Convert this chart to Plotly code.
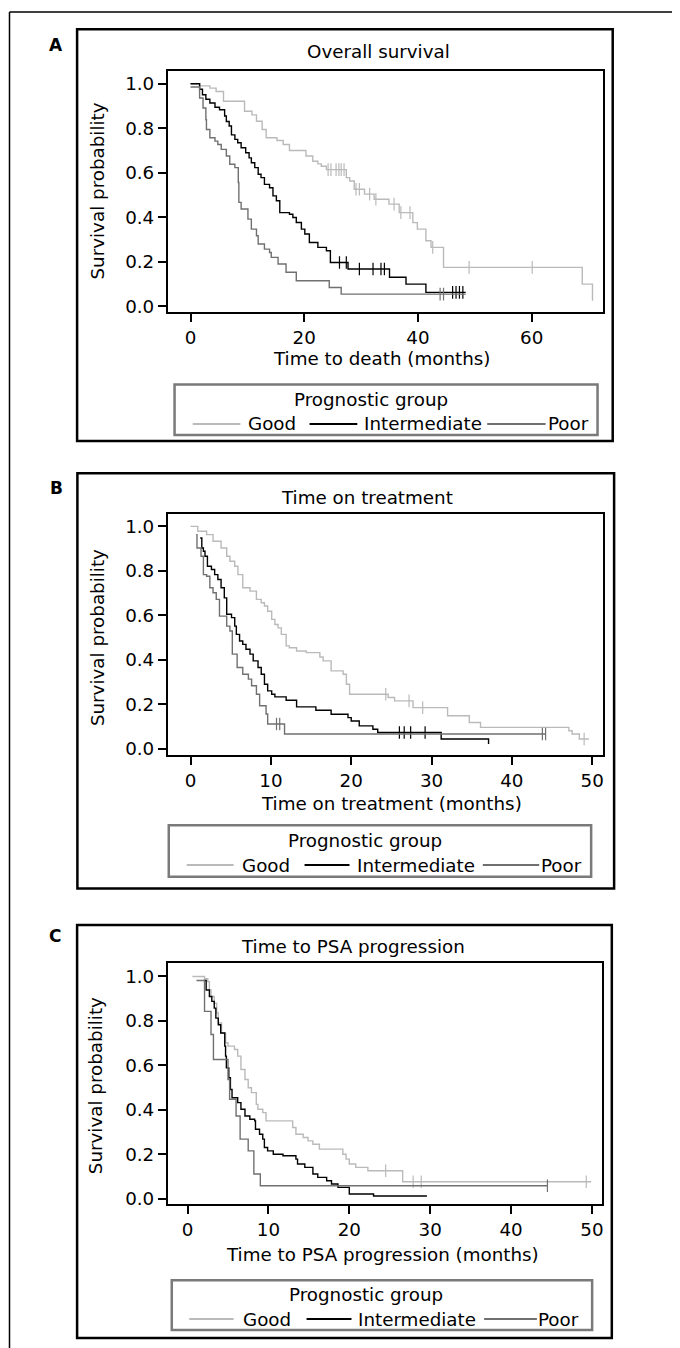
import plotly.graph_objects as go

W, H = 680, 1348
OFF = 8  # page body margin of the html page

# ---------------- data: Panel A, Overall survival (months) ----------------
os_good_start = 0.0
os_good_s0 = 1.0
os_good_t = [1.6, 3.4, 4.5, 5.8, 9.5, 10.8, 11.6, 12.6, 13.3, 15.2, 16.3, 17.4, 20.3, 21.5, 22.4, 23.0,
             23.9, 27.4, 28.0, 28.8, 30.6, 32.3, 34.9, 36.7, 39.1, 39.9, 41.4, 42.3, 44.5, 68.9, 70.7]
os_good_s = [0.99, 0.98, 0.965, 0.921, 0.876, 0.86, 0.831, 0.794, 0.757, 0.745, 0.727, 0.70, 0.675, 0.652,
             0.64, 0.629, 0.614, 0.578, 0.563, 0.526, 0.504, 0.481, 0.459, 0.421, 0.376, 0.347, 0.295,
             0.265, 0.175, 0.10, 0.025]
os_good_cens = [24.2, 24.7, 25.6, 26.1, 26.5, 27.0, 29.1, 29.7, 31.5, 32.6, 35.8, 37.0, 38.6, 42.6, 49.0, 60.1]
os_good_end = 70.7

os_int_start = 0.0
os_int_s0 = 1.0
os_int_t = [1.6, 2.1, 2.7, 3.4, 4.3, 5.1, 6.0, 6.3, 6.8, 7.2, 7.8, 8.3, 8.9, 9.7, 10.3, 10.7, 11.3, 11.9,
            12.4, 13.0, 13.9, 14.5, 15.1, 15.7, 17.4, 18.0, 18.6, 19.5, 20.1, 20.9, 22.4, 23.9, 24.6,
            27.7, 35.0, 37.9, 41.4]
os_int_s = [0.975, 0.95, 0.93, 0.913, 0.894, 0.883, 0.855, 0.83, 0.81, 0.77, 0.75, 0.735, 0.712, 0.69,
            0.667, 0.645, 0.623, 0.593, 0.578, 0.548, 0.533, 0.496, 0.474, 0.421, 0.414, 0.399, 0.377,
            0.347, 0.325, 0.287, 0.265, 0.25, 0.197, 0.168, 0.131, 0.10, 0.063]
os_int_cens = [26.2, 27.4, 29.7, 32.1, 33.5, 34.1, 46.1, 46.7, 47.3, 47.9]
os_int_end = 48.4

os_poor_start = 0.0
os_poor_s0 = 0.985
os_poor_t = [1.6, 2.2, 2.7, 2.8, 3.4, 4.3, 4.8, 5.4, 6.3, 6.9, 7.8, 8.4, 8.5, 8.9, 10.1, 10.7, 11.6, 11.9,
             13.0, 13.9, 14.2, 15.4, 16.8, 18.6, 24.4, 26.5]
os_poor_s = [0.936, 0.891, 0.838, 0.794, 0.757, 0.742, 0.727, 0.705, 0.675, 0.638, 0.623, 0.556, 0.467,
             0.437, 0.392, 0.347, 0.317, 0.28, 0.257, 0.242, 0.22, 0.19, 0.153, 0.115, 0.085, 0.055]
os_poor_cens = [43.9, 44.5]
os_poor_end = 48.4

# ---------------- data: Panel B, Time on treatment (months) ----------------
tt_good_start = 0.0
tt_good_s0 = 1.0
tt_good_t = [0.9, 2.0, 2.8, 3.8, 4.5, 4.9, 5.5, 5.9, 6.5, 7.4, 8.2, 8.8, 9.2, 9.6, 10.1, 10.5, 10.9, 11.3,
             11.9, 12.3, 13.2, 14.4, 16.1, 16.5, 17.5, 19.0, 19.4, 19.8, 24.6, 25.4, 27.7, 32.0, 34.7,
             36.1, 47.1, 47.5, 48.4]
tt_good_s = [0.978, 0.963, 0.933, 0.903, 0.866, 0.843, 0.821, 0.783, 0.724, 0.709, 0.672, 0.657, 0.642,
             0.619, 0.582, 0.559, 0.544, 0.515, 0.463, 0.455, 0.44, 0.433, 0.413, 0.396, 0.351, 0.336,
             0.291, 0.246, 0.231, 0.216, 0.186, 0.149, 0.119, 0.097, 0.082, 0.067, 0.045]
tt_good_cens = [24.3, 27.2, 28.9, 49.0]
tt_good_end = 49.6

tt_int_start = 1.2
tt_int_s0 = 0.948
tt_int_t = [1.4, 1.6, 1.8, 2.1, 2.6, 3.0, 3.4, 3.8, 4.2, 4.5, 5.1, 5.5, 5.7, 6.1, 6.5, 6.9, 7.4, 7.8, 8.4,
            8.8, 9.2, 9.6, 10.1, 10.5, 11.9, 13.2, 15.6, 17.5, 19.6, 20.0, 21.0, 22.7, 23.3, 31.2, 37.1]
tt_int_s = [0.903, 0.888, 0.866, 0.821, 0.806, 0.783, 0.761, 0.724, 0.679, 0.605, 0.59, 0.552, 0.515,
            0.485, 0.47, 0.448, 0.426, 0.396, 0.366, 0.336, 0.291, 0.261, 0.246, 0.234, 0.219, 0.189,
            0.174, 0.156, 0.141, 0.126, 0.104, 0.089, 0.074, 0.045, 0.022]
tt_int_cens = [26.0, 26.6, 27.4, 29.2]
tt_int_end = 37.1

tt_poor_start = 0.7
tt_poor_s0 = 0.963
tt_poor_t = [0.8, 1.3, 1.6, 2.0, 2.4, 2.8, 3.2, 3.6, 4.5, 4.9, 5.2, 5.8, 6.5, 7.2, 7.6, 8.2, 8.6, 9.4,
             9.6, 11.7]
tt_poor_s = [0.903, 0.866, 0.783, 0.776, 0.724, 0.702, 0.672, 0.597, 0.552, 0.53, 0.426, 0.366, 0.336,
             0.314, 0.284, 0.246, 0.194, 0.157, 0.112, 0.067]
tt_poor_cens = [10.7, 11.1, 43.8, 44.2]
tt_poor_end = 44.2

# ---------------- data: Panel C, Time to PSA progression (months) ----------------
psa_good_start = 0.6
psa_good_s0 = 1.0
psa_good_t = [2.1, 2.5, 2.7, 2.9, 3.3, 3.6, 3.8, 4.2, 4.7, 5.0, 5.8, 6.2, 6.6, 7.1, 7.5, 7.9, 8.5, 8.7,
              9.3, 9.7, 13.0, 13.4, 14.3, 14.9, 15.5, 16.3, 19.2, 19.6, 20.0, 20.8, 22.3, 26.6]
psa_good_s = [0.99, 0.977, 0.939, 0.91, 0.88, 0.836, 0.791, 0.746, 0.702, 0.687, 0.672, 0.642, 0.582,
              0.537, 0.50, 0.478, 0.425, 0.403, 0.388, 0.351, 0.321, 0.291, 0.276, 0.261, 0.246, 0.224,
              0.201, 0.179, 0.157, 0.142, 0.127, 0.077]
psa_good_cens = [24.5, 27.9, 28.9, 49.3]
psa_good_end = 49.9

psa_int_start = 2.0
psa_int_s0 = 0.982
psa_int_t = [2.3, 2.7, 3.0, 3.3, 3.5, 3.8, 4.1, 4.6, 4.7, 4.8, 5.1, 5.3, 5.5, 6.2, 6.6, 7.1, 7.7, 8.3,
             8.4, 8.9, 9.3, 9.5, 9.9, 10.6, 11.8, 13.4, 13.6, 14.5, 15.5, 16.1, 17.2, 17.8, 18.6, 20.0, 23.0]
psa_int_s = [0.939, 0.91, 0.888, 0.858, 0.813, 0.783, 0.746, 0.687, 0.642, 0.589, 0.545, 0.492, 0.455,
             0.433, 0.403, 0.373, 0.358, 0.351, 0.313, 0.291, 0.269, 0.231, 0.216, 0.201, 0.194, 0.179,
             0.157, 0.142, 0.112, 0.097, 0.082, 0.067, 0.052, 0.022, 0.013]
psa_int_cens = []
psa_int_end = 29.6

psa_poor_start = 1.1
psa_poor_s0 = 0.982
psa_poor_t = [2.1, 2.9, 3.2, 5.0, 5.2, 6.0, 6.5, 7.5, 8.2, 9.0]
psa_poor_s = [0.843, 0.739, 0.627, 0.537, 0.448, 0.373, 0.269, 0.216, 0.112, 0.059]
psa_poor_cens = [44.5]
psa_poor_end = 44.5

group_names = ["Good", "Intermediate", "Poor"]
panel_letters = ["A", "B", "C"]
panel_titles = ["Overall survival", "Time on treatment", "Time to PSA progression"]
x_titles = ["Time to death (months)", "Time on treatment (months)", "Time to PSA progression (months)"]
y_title = "Survival probability"
legend_title = "Prognostic group"
y_ticks = [0.0, 0.2, 0.4, 0.6, 0.8, 1.0]
x_ticks = [[0, 20, 40, 60], [0, 10, 20, 30, 40, 50], [0, 10, 20, 30, 40, 50]]

curves = [
    [(os_good_start, os_good_s0, os_good_t, os_good_s, os_good_cens, os_good_end),
     (os_int_start, os_int_s0, os_int_t, os_int_s, os_int_cens, os_int_end),
     (os_poor_start, os_poor_s0, os_poor_t, os_poor_s, os_poor_cens, os_poor_end)],
    [(tt_good_start, tt_good_s0, tt_good_t, tt_good_s, tt_good_cens, tt_good_end),
     (tt_int_start, tt_int_s0, tt_int_t, tt_int_s, tt_int_cens, tt_int_end),
     (tt_poor_start, tt_poor_s0, tt_poor_t, tt_poor_s, tt_poor_cens, tt_poor_end)],
    [(psa_good_start, psa_good_s0, psa_good_t, psa_good_s, psa_good_cens, psa_good_end),
     (psa_int_start, psa_int_s0, psa_int_t, psa_int_s, psa_int_cens, psa_int_end),
     (psa_poor_start, psa_poor_s0, psa_poor_t, psa_poor_s, psa_poor_cens, psa_poor_end)],
]

# ---------------- styling / layout (screen pixels) ----------------
COLORS = ["#bababa", "#000000", "#707070"]
FONT = "DejaVu Sans"
FS = 18.3

panels = [
    dict(plot=(168.3, 603.6, 71.0, 313.3), xr=[-3.95, 72.5], yr=[-0.026, 1.058],
         frame=(77.2, 29.3, 613.6, 442.7), letter=(56.4, 45.0), title=(379.4, 51.7),
         ytitle=(97.6, 191.7), xtitle=(381.6, 360.0),
         leg=(174.8, 386.0, 598.4, 436.7), legtitle=(372.0, 401.0), row=425.5,
         items=[(193.0, 240.7, 247.0), (310.0, 357.8, 363.4), (487.9, 546.4, 547.3)]),
    dict(plot=(168.3, 604.3, 516.0, 758.0), xr=[-2.8, 51.4], yr=[-0.028, 1.055],
         frame=(77.5, 475.0, 615.0, 891.7), letter=(56.4, 490.0), title=(367.7, 499.3),
         ytitle=(97.6, 640.0), xtitle=(391.6, 806.7),
         leg=(169.0, 828.3, 592.0, 880.0), legtitle=(365.6, 843.3), row=868.3,
         items=[(187.0, 234.0, 241.5), (305.0, 350.0, 356.5), (483.5, 540.0, 540.5)]),
    dict(plot=(168.3, 603.3, 966.7, 1208.3), xr=[-2.41, 51.3], yr=[-0.022, 1.06],
         frame=(77.2, 928.3, 612.7, 1343.0), letter=(55.5, 939.3), title=(353.4, 950.0),
         ytitle=(96.3, 1090.0), xtitle=(383.3, 1259.3),
         leg=(172.0, 1285.0, 593.0, 1335.0), legtitle=(366.4, 1299.3), row=1324.0,
         items=[(189.5, 234.0, 242.8), (307.0, 352.0, 358.0), (484.8, 537.7, 538.2)]),
]


def fx(px):
    return (px - OFF) / W


def fy(py):
    return 1 - (py - OFF) / H


def surv_at(c, start_s, ts, ss):
    val = start_s
    for t, s in zip(ts, ss):
        if t <= c:
            val = s
    return val


fig = go.Figure()
layout = dict(width=W, height=H, margin=dict(l=0, r=0, t=0, b=0),
              paper_bgcolor="white", plot_bgcolor="white", showlegend=False)
shapes = []
annotations = []

for i, (p, pcurves) in enumerate(zip(panels, curves)):
    sfx = "" if i == 0 else str(i + 1)
    xa, ya = "x" + sfx, "y" + sfx
    for g, (st, s0, ts, ss, cens, end) in enumerate(pcurves):
        xs = [st] + list(ts) + [end]
        ys = [s0] + list(ss) + [ss[-1] if ss else s0]
        fig.add_trace(go.Scatter(x=xs, y=ys, mode="lines", line=dict(color=COLORS[g], width=1.4, shape="hv"),
                                 name=group_names[g], xaxis=xa, yaxis=ya, hoverinfo="skip"))
        if cens:
            fig.add_trace(go.Scatter(x=cens, y=[surv_at(c, s0, ts, ss) for c in cens], mode="markers",
                                     marker=dict(symbol="line-ns", size=9,
                                                 line=dict(color=COLORS[g], width=1.2)),
                                     name=group_names[g] + " censored", xaxis=xa, yaxis=ya,
                                     hoverinfo="skip"))
    x0, x1, yt, yb = p["plot"]
    axis_common = dict(showgrid=False, zeroline=False, showline=True, linecolor="black", linewidth=2.3,
                       mirror=True, ticks="outside", ticklen=8, tickwidth=1.6, tickcolor="black",
                       tickfont=dict(family=FONT, size=FS, color="black"))
    layout["xaxis" + sfx] = dict(domain=[fx(x0), fx(x1)], range=p["xr"], anchor=ya,
                                 tickvals=x_ticks[i], **axis_common)
    layout["yaxis" + sfx] = dict(domain=[fy(yb), fy(yt)], range=p["yr"], anchor=xa,
                                 tickvals=y_ticks, tickformat=".1f", **axis_common)

    # panel frame
    fx0, fy0, fx1, fy1 = p["frame"]
    shapes.append(dict(type="rect", xref="paper", yref="paper", x0=fx(fx0), x1=fx(fx1), y0=fy(fy1), y1=fy(fy0),
                       line=dict(color="black", width=2.5), fillcolor="rgba(0,0,0,0)", layer="below"))
    # legend box
    lx0, ly0, lx1, ly1 = p["leg"]
    shapes.append(dict(type="rect", xref="paper", yref="paper", x0=fx(lx0), x1=fx(lx1), y0=fy(ly1), y1=fy(ly0),
                       line=dict(color="#7a7a7a", width=2.5), fillcolor="white"))
    for g, (a0, a1, tx) in enumerate(p["items"]):
        shapes.append(dict(type="line", xref="paper", yref="paper", x0=fx(a0), x1=fx(a1),
                           y0=fy(p["row"]), y1=fy(p["row"]), line=dict(color=COLORS[g], width=2)))
        annotations.append(dict(text=group_names[g], xref="paper", yref="paper", x=fx(tx), y=fy(p["row"]),
                                xanchor="left", yanchor="middle", showarrow=False,
                                font=dict(family=FONT, size=FS, color="black"), borderpad=0))
    annotations.append(dict(text=legend_title, xref="paper", yref="paper", x=fx(p["legtitle"][0]),
                            y=fy(p["legtitle"][1]), xanchor="center", yanchor="middle", showarrow=False,
                            font=dict(family=FONT, size=FS, color="black"), borderpad=0))
    # texts
    annotations.append(dict(text="<b>%s</b>" % panel_letters[i], xref="paper", yref="paper",
                            x=fx(p["letter"][0]), y=fy(p["letter"][1]), xanchor="center", yanchor="middle",
                            showarrow=False, font=dict(family=FONT, size=17, color="black")))
    annotations.append(dict(text=panel_titles[i], xref="paper", yref="paper", x=fx(p["title"][0]),
                            y=fy(p["title"][1]), xanchor="center", yanchor="middle", showarrow=False,
                            font=dict(family=FONT, size=FS, color="black")))
    annotations.append(dict(text=x_titles[i], xref="paper", yref="paper", x=fx(p["xtitle"][0]),
                            y=fy(p["xtitle"][1]), xanchor="center", yanchor="middle", showarrow=False,
                            font=dict(family=FONT, size=FS, color="black")))
    annotations.append(dict(text=y_title, xref="paper", yref="paper", x=fx(p["ytitle"][0]),
                            y=fy(p["ytitle"][1]), xanchor="center", yanchor="middle", showarrow=False,
                            textangle=-90, font=dict(family=FONT, size=FS, color="black")))

# outer figure border (top and left edges visible)
shapes.append(dict(type="line", xref="paper", yref="paper", x0=fx(9.5), x1=1, y0=fy(12), y1=fy(12),
                   line=dict(color="black", width=1.5)))
shapes.append(dict(type="line", xref="paper", yref="paper", x0=fx(9.5), x1=fx(9.5), y0=fy(12), y1=0,
                   line=dict(color="black", width=1.5)))

layout["shapes"] = shapes
layout["annotations"] = annotations
fig.update_layout(**layout)
fig.write_html("out.html", config={"displayModeBar": False},
               post_script="document.documentElement.style.overflow='hidden';"
                           "document.body.style.overflow='hidden';")
